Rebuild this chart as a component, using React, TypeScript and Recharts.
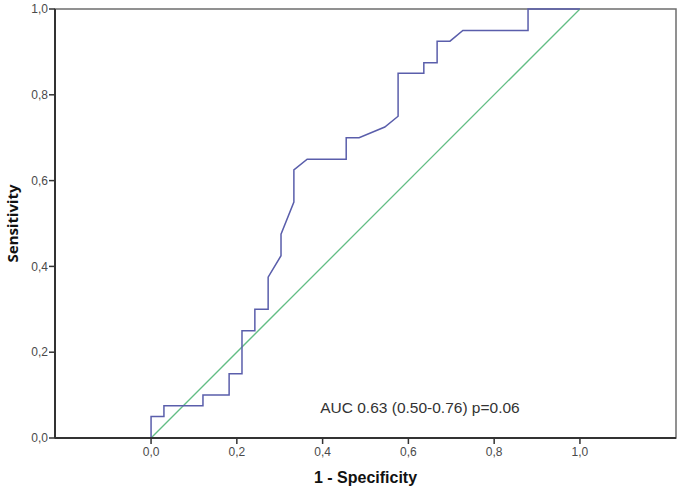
import React from 'react';
import { LineChart, Line, XAxis, YAxis, ReferenceArea, ReferenceDot, Label } from 'recharts';

// ROC curve: 1 - specificity (x) vs sensitivity (y)
const rocFpr = [0, 0, 0.03, 0.03, 0.121, 0.121, 0.182, 0.182, 0.212, 0.212, 0.242, 0.242, 0.273, 0.273, 0.303, 0.303, 0.333, 0.333, 0.364, 0.455, 0.455, 0.485, 0.545, 0.576, 0.576, 0.636, 0.636, 0.667, 0.667, 0.697, 0.727, 0.879, 0.879, 1.0];
const rocTpr = [0, 0.05, 0.05, 0.075, 0.075, 0.1, 0.1, 0.15, 0.15, 0.25, 0.25, 0.3, 0.3, 0.375, 0.425, 0.475, 0.55, 0.625, 0.65, 0.65, 0.7, 0.7, 0.725, 0.75, 0.85, 0.85, 0.875, 0.875, 0.925, 0.925, 0.95, 0.95, 1.0, 1.0];
const refFpr = [0, 1];
const refTpr = [0, 1];
const tickValues = [0, 0.2, 0.4, 0.6, 0.8, 1.0];
const xLabel = '1 - Specificity';
const yLabel = 'Sensitivity';
const aucText = 'AUC 0.63 (0.50-0.76) p=0.06';
const aucPos = { x: 0.627, y: 0.072 };
const xDomain: [number, number] = [-0.224, 1.224];

const rocData = rocFpr.map((x, i) => ({ x, y: rocTpr[i] }));
const refData = refFpr.map((x, i) => ({ x, y: refTpr[i] }));

const fmt = (v: number) => v.toFixed(1).replace('.', ',');

export default function App() {
  return (
    <div style={{ position: 'absolute', left: 0, top: 0, background: '#fff' }}>
      <LineChart width={685} height={492} margin={{ top: 9, right: 9, bottom: 0, left: 0 }}>
        <ReferenceArea x1={xDomain[0]} x2={xDomain[1]} y1={0} y2={1} fill="none" stroke="#6e6e6e" strokeWidth={1.5} ifOverflow="extendDomain" />
        <XAxis
          type="number"
          dataKey="x"
          domain={xDomain}
          ticks={tickValues}
          tickFormatter={fmt}
          allowDataOverflow
          height={54}
          tickSize={6}
          tickMargin={3}
          axisLine={{ stroke: '#333', strokeWidth: 2 }}
          tickLine={{ stroke: '#333', strokeWidth: 1.5 }}
          tick={{ fill: '#4a4a4a', fontSize: 12, fontFamily: 'Liberation Sans, Arial, sans-serif' }}
        >
          <Label value={xLabel} position="insideBottom" offset={9} style={{ fontFamily: 'Liberation Sans, Arial, sans-serif', fontWeight: 700, fontSize: 16, fill: '#111' }} />
        </XAxis>
        <YAxis
          type="number"
          domain={[0, 1]}
          ticks={tickValues}
          tickFormatter={fmt}
          width={55}
          tickSize={6}
          tickMargin={1}
          axisLine={{ stroke: '#333', strokeWidth: 2 }}
          tickLine={{ stroke: '#333', strokeWidth: 1.5 }}
          tick={{ fill: '#4a4a4a', fontSize: 12, fontFamily: 'Liberation Sans, Arial, sans-serif' }}
        >
          <Label value={yLabel} angle={-90} position="insideLeft" offset={13} style={{ textAnchor: 'middle', fontFamily: 'Noto Sans, sans-serif', fontWeight: 700, fontSize: 15, fill: '#111' }} />
        </YAxis>
        <Line data={refData} dataKey="y" type="linear" stroke="#62bd84" strokeWidth={1.3} dot={false} isAnimationActive={false} />
        <Line data={rocData} dataKey="y" type="linear" stroke="#5a5eab" strokeWidth={1.5} dot={false} isAnimationActive={false} />
        <ReferenceDot x={aucPos.x} y={aucPos.y} r={0} stroke="none" fill="none"
          label={{ value: aucText, position: 'center', fill: '#333', fontSize: 15.5, fontFamily: 'Liberation Sans, Arial, sans-serif' }} />
      </LineChart>
    </div>
  );
}
